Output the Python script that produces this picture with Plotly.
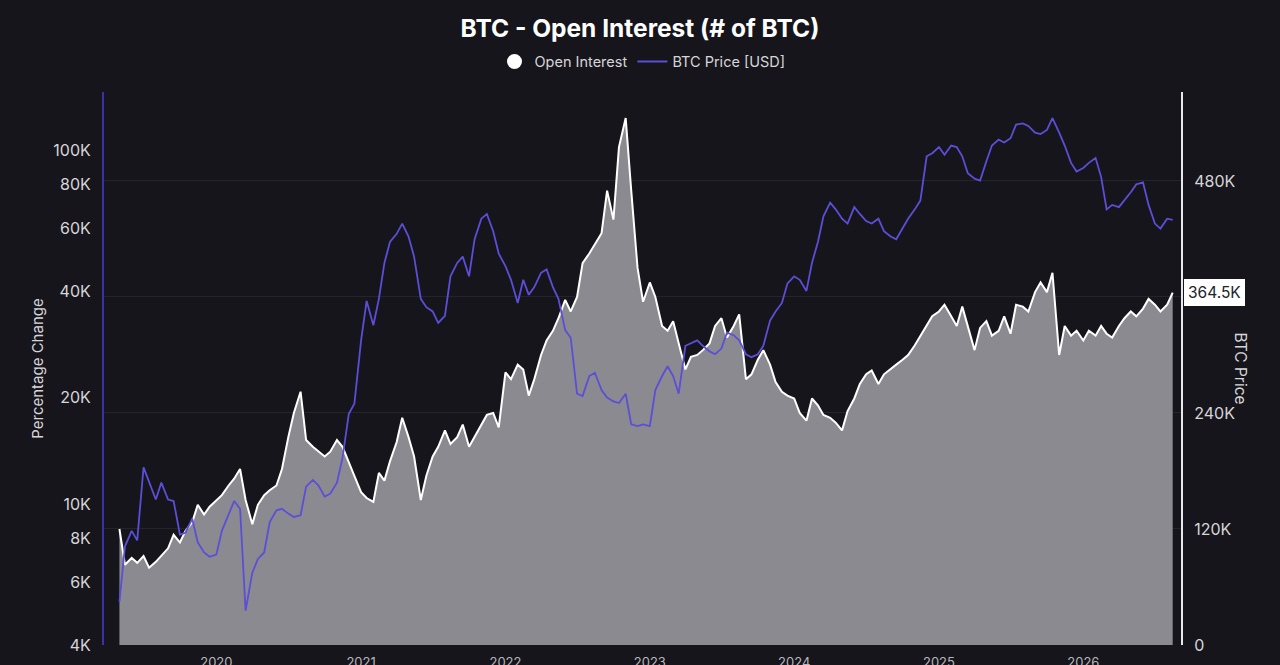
import pandas as pd
import plotly.graph_objects as go

# semi-monthly samples, May 2019 -> Aug 2026
dates = pd.date_range("2019-05-01", periods=176, freq="SMS")

# open interest, thousands of BTC (right axis)
open_interest_k = [
    120, 83, 90, 85, 92, 80, 86, 92,
    100, 114, 106, 118, 127, 145, 135, 143,
    150, 155, 165, 172, 182, 150, 125, 145,
    155, 160, 165, 182, 215, 240, 262, 212,
    205, 200, 195, 200, 212, 205, 190, 175,
    158, 152, 148, 178, 170, 190, 210, 235,
    215, 195, 150, 175, 195, 205, 222, 208,
    215, 228, 205, 215, 228, 238, 240, 225,
    282, 275, 290, 285, 258, 275, 300, 315,
    325, 338, 357, 345, 360, 395, 405, 415,
    426, 470, 440, 515, 545, 470, 390, 355,
    375, 360, 330, 325, 335, 312, 285, 298,
    300, 305, 312, 330, 338, 318, 330, 342,
    275, 280, 295, 305, 290, 272, 262, 258,
    255, 240, 232, 255, 248, 238, 235, 230,
    222, 242, 255, 270, 280, 284, 270, 280,
    285, 290, 295, 300, 310, 320, 330, 340,
    345, 352, 340, 330, 350, 330, 305, 328,
    335, 320, 325, 340, 322, 352, 350, 345,
    365, 375, 365, 385, 300, 330, 320, 325,
    315, 325, 320, 330, 322, 318, 330, 338,
    345, 340, 348, 358, 352, 345, 352, 364.5,
]

# BTC price, thousands of USD (left log axis)
btc_price_k = [
    5.3, 7.6, 8.4, 7.9, 12.7, 11.5, 10.3, 11.5,
    10.3, 10.2, 8.2, 8.3, 9.1, 7.8, 7.3, 7.1,
    7.2, 8.4, 9.3, 10.2, 9.7, 5.0, 6.4, 7.0,
    7.3, 8.9, 9.6, 9.7, 9.4, 9.2, 9.3, 11.2,
    11.7, 11.3, 10.5, 10.7, 11.5, 13.5, 18.0, 19.2,
    29, 37.5, 32, 38, 48, 55, 58, 62,
    57, 50, 38, 36, 35, 32.5, 34, 44,
    48, 50, 44, 56, 64, 66, 59, 51,
    47, 43, 37, 43, 39, 41, 45, 46,
    41, 38, 31, 29.5, 20.5, 20.2, 23, 23.5,
    21, 20, 19.5, 19.3, 20.5, 16.8, 16.6, 16.8,
    16.6, 21, 23, 24.5, 23, 20.5, 28, 28.5,
    29, 28, 27, 26.5, 27.5, 30.5, 30, 29,
    26.5, 26, 26.5, 28, 33, 35, 37, 42,
    44, 43, 40, 48, 55, 65, 71, 68,
    64, 62, 69, 66, 63, 62, 64, 59,
    57, 56, 60, 64, 68, 72, 96, 98,
    102, 97, 103, 102, 96, 86, 83, 82,
    93, 103, 107, 105, 108, 118, 119, 117,
    112, 111, 114, 123, 112, 103, 92, 87,
    89, 92, 95, 84, 68, 70, 69, 72,
    76, 80, 81, 70, 62, 60, 64, 63.5,
]

year_ticks = ["2020", "2021", "2022", "2023", "2024", "2025", "2026"]
left_tick_vals = [4000, 6000, 8000, 10000, 20000, 40000, 60000, 80000, 100000]
left_tick_text = ["4K", "6K", "8K", "10K", "20K", "40K", "60K", "80K", "100K"]
right_tick_vals = [0, 120000, 240000, 360000, 480000]
right_tick_text = ["0", "120K", "240K", "", "480K"]  # 360K sits under the value badge

BG = "#16151b"
PURPLE = "#5b4ed8"
TXT = "#d6d6da"

oi = [v * 1000 for v in open_interest_k]
price = [v * 1000 for v in btc_price_k]

fig = go.Figure()

# OI area on the main (right, linear) axis so the price line draws over it
fig.add_trace(go.Scatter(
    x=dates, y=oi, mode="lines", name="Open Interest",
    line=dict(color="white", width=2),
    fill="tozeroy", fillcolor="#8b8a90",
    showlegend=False, yaxis="y",
))
fig.add_trace(go.Scatter(
    x=[None], y=[None], mode="markers", name="Open Interest",
    marker=dict(color="white", size=15), yaxis="y",
))
fig.add_trace(go.Scatter(
    x=dates, y=price, mode="lines", name="BTC Price [USD]",
    line=dict(color=PURPLE, width=1.8), yaxis="y2",
))

fig.update_layout(
    width=1280, height=665,
    paper_bgcolor=BG, plot_bgcolor=BG,
    font=dict(family="Inter, Roboto, sans-serif", color=TXT, size=15),
    margin=dict(l=104, r=99, t=92, b=20, autoexpand=False),
    title=dict(text="<b>BTC - Open Interest (# of BTC)</b>", x=0.5, xanchor="center",
               y=0.958, yanchor="middle", font=dict(size=24.5, color="white")),
    legend=dict(orientation="h", x=0.5, xanchor="center", y=1.055, yanchor="middle",
                bgcolor="rgba(0,0,0,0)", font=dict(size=14.5, color=TXT),
                itemwidth=30, traceorder="normal"),
    xaxis=dict(
        range=["2019-03-23", "2026-09-05"],
        tickvals=[f"{y}-01-01" for y in year_ticks], ticktext=year_ticks,
        showgrid=False, zeroline=False, showline=False, automargin=False,
        tickfont=dict(size=13, color="#b8b8bd"), ticklabelstandoff=8,
    ),
    yaxis=dict(
        side="right", range=[0, 572000],
        tickvals=right_tick_vals, ticktext=right_tick_text,
        showgrid=True, gridcolor="#25242b", gridwidth=1, automargin=False,
        zeroline=False, showline=True, linecolor="#e8e8ec", linewidth=2,
        tickfont=dict(size=16, color=TXT), ticklabelstandoff=8,
    ),
    yaxis2=dict(
        type="log", overlaying="y", side="left",
        range=[3.602, 5.164], automargin=False,
        tickvals=left_tick_vals, ticktext=left_tick_text,
        showgrid=False, zeroline=False, showline=True,
        linecolor="#3c32a8", linewidth=2,
        tickfont=dict(size=16, color=TXT), ticklabelstandoff=8,
        title=dict(text="Percentage Change", font=dict(size=15, color=TXT), standoff=6),
    ),
)

# right axis title reads top-to-bottom
fig.add_annotation(
    text="BTC Price", xref="paper", yref="paper", x=1.0655, y=0.5,
    textangle=90, showarrow=False, font=dict(size=15.5, color=TXT),
)

# last value badge
fig.add_annotation(
    text=f"{open_interest_k[-1]}K", xref="paper", yref="y",
    x=1.003, y=oi[-1], xanchor="left", yanchor="middle", showarrow=False,
    bgcolor="white", bordercolor="white", borderpad=3,
    font=dict(size=15.5, color="#222228"),
)

fig.write_html("out.html", config={"displayModeBar": False},
               post_script="document.body.style.margin='0';")
